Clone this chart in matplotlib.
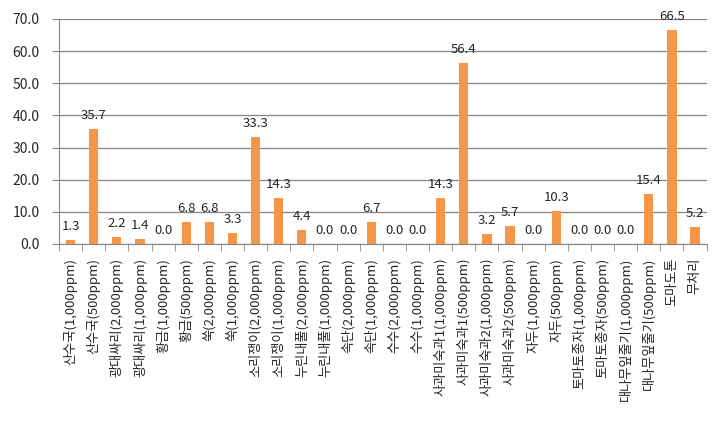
import numpy as np
import matplotlib
matplotlib.use('Agg')
import matplotlib.pyplot as plt

plt.rcParams['font.family'] = ['Noto Sans CJK KR', 'DejaVu Sans']

labels = ['산수국(1,000ppm)', '산수국(500ppm)', '광대싸리(2,000ppm)', '광대싸리(1,000ppm)',
          '황금(1,000ppm)', '황금(500ppm)', '쑥(2,000ppm)', '쑥(1,000ppm)',
          '소리쟁이(2,000ppm)', '소리쟁이(1,000ppm)', '누린내풀(2,000ppm)', '누린내풀(1,000ppm)',
          '속단(2,000ppm)', '속단(1,000ppm)', '수수(2,000ppm)', '수수(1,000ppm)',
          '사과미숙과1(1,000ppm)', '사과미숙과1(500ppm)', '사과미숙과2(1,000ppm)', '사과미숙과2(500ppm)',
          '자두(1,000ppm)', '자두(500ppm)', '토마토종자(1,000ppm)', '토마토종자(500ppm)',
          '대나무잎줄기(1,000ppm)', '대나무잎줄기(500ppm)', '도마도톤', '무처리']
values = [1.3, 35.7, 2.2, 1.4, 0.0, 6.8, 6.8, 3.3, 33.3, 14.3, 4.4, 0.0, 0.0, 6.7,
          0.0, 0.0, 14.3, 56.4, 3.2, 5.7, 0.0, 10.3, 0.0, 0.0, 0.0, 15.4, 66.5, 5.2]
yticks = [0, 10, 20, 30, 40, 50, 60, 70]

fig = plt.figure(figsize=(7.22, 4.22), dpi=100)
ax = fig.add_axes([0.0817, 0.422, 0.897, 0.533])

x = np.arange(len(values))
ax.bar(x, values, width=0.4, color='#F79646', zorder=3)

for xi, v in zip(x, values):
    ax.annotate('%.1f' % v, (xi, v), xytext=(0, 5), textcoords='offset points',
                ha='center', va='bottom', fontsize=9.5, color='#262626', zorder=4)

ax.set_xlim(-0.5, len(values) - 0.5)
ax.set_ylim(0, 70)
ax.set_yticks(yticks)
ax.set_yticklabels(['%.1f' % t for t in yticks], fontsize=10, color='#262626')
ax.yaxis.grid(True, color='#868686', linewidth=0.9, zorder=0)
ax.tick_params(axis='y', length=5, color='#868686', pad=9)

ax.set_xticks(x)
ax.set_xticklabels(labels, rotation=90, fontsize=9.5, color='#262626')
ax.tick_params(axis='x', which='major', length=0, pad=10)
ax.set_xticks(np.arange(-0.5, len(values), 1), minor=True)
ax.tick_params(axis='x', which='minor', length=5, color='#868686')

for s in ['top', 'right']:
    ax.spines[s].set_visible(False)
for s in ['left', 'bottom']:
    ax.spines[s].set_color('#868686')

fig.savefig('out.png', dpi=100)
